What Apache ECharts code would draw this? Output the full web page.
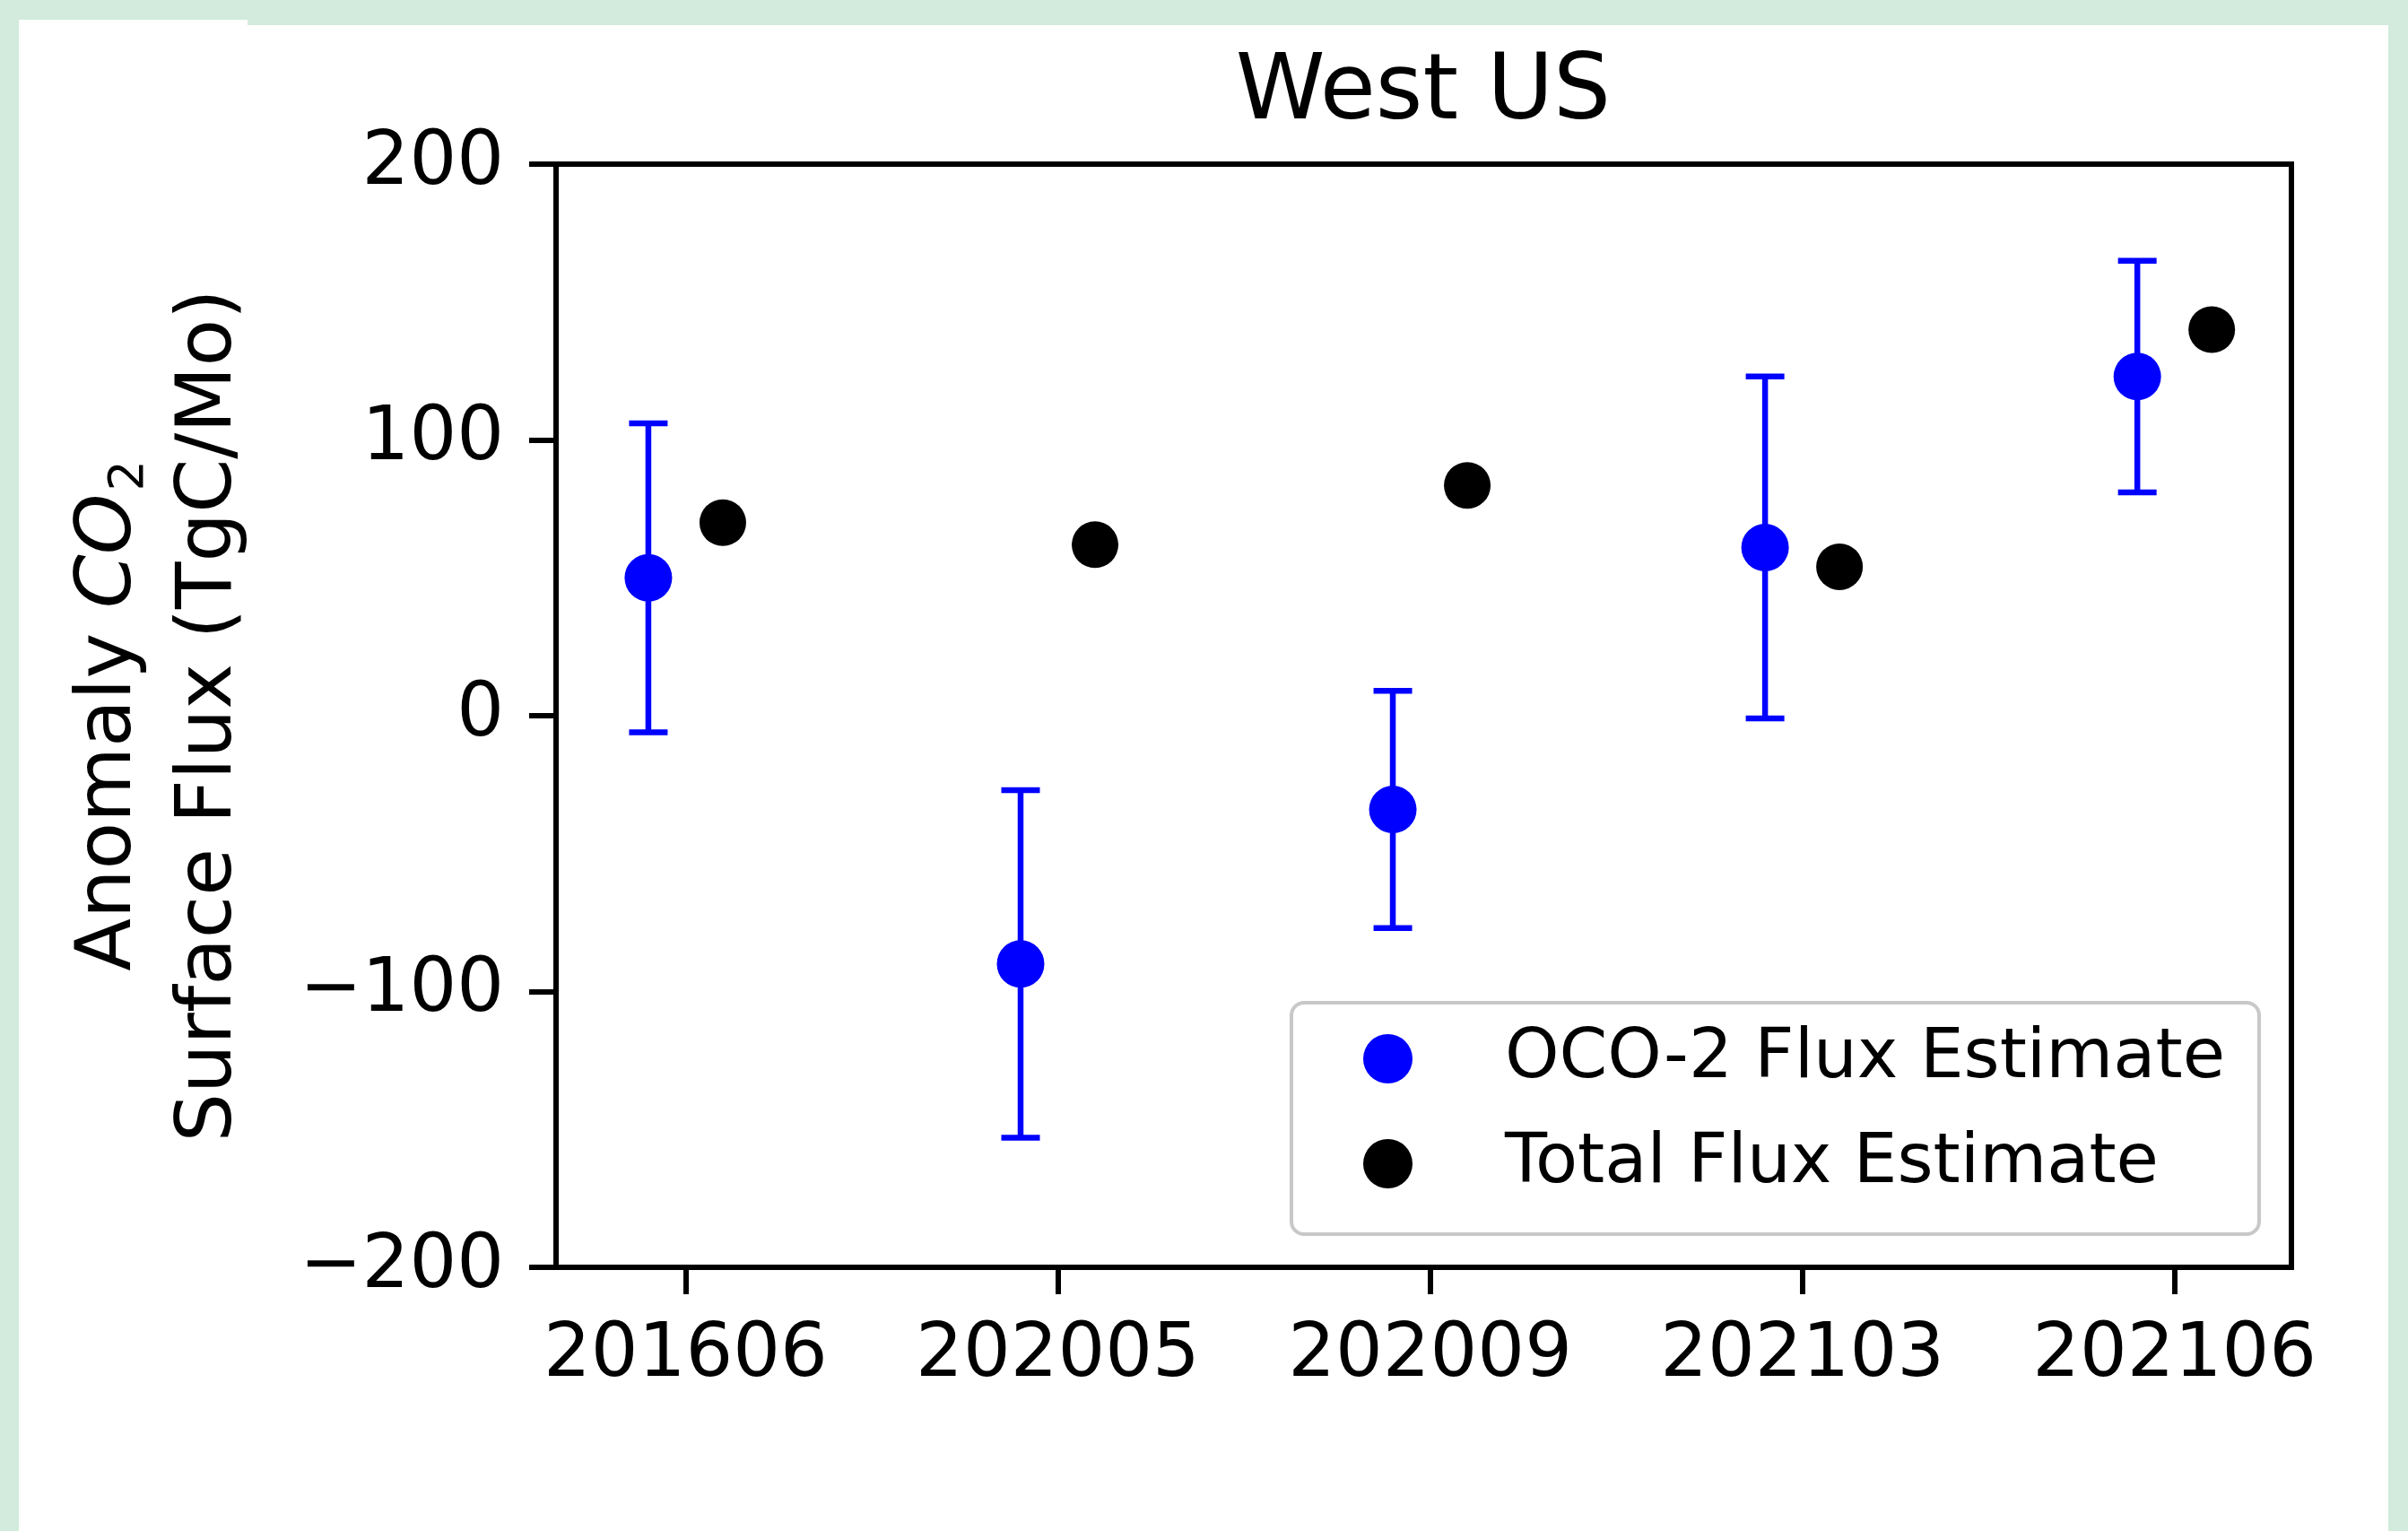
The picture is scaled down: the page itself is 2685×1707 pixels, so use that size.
<!DOCTYPE html>
<html>
<head>
<meta charset="utf-8">
<script src="https://cdn.jsdelivr.net/npm/echarts@6/dist/echarts.min.js"></script>
<style>
html,body{margin:0;padding:0;background:#d2ebdc;}
#c{width:2685px;height:1707px;}
</style>
</head>
<body>
<div id="c"></div>
<script>
// ---- data ----
const categories = ['201606', '202005', '202009', '202103', '202106'];
const ocoValues = [50, -90, -34, 61, 123];
const ocoErrors = [56, 63, 43, 62, 42];
const totalValues = [70, 62, 83.5, 54, 140];
const yTicks = [-200, -100, 0, 100, 200];
const seriesNames = ['OCO-2 Flux Estimate', 'Total Flux Estimate'];
const blueOffset = -0.1;
const blackOffset = 0.1;

const xTickPositions = categories.map((_, i) => i);
const ocoPoints = categories.map((_, i) => [i + blueOffset, ocoValues[i]]);
const ocoBars = categories.map((_, i) => [i + blueOffset, ocoValues[i] - ocoErrors[i], ocoValues[i] + ocoErrors[i]]);
const totalPoints = categories.map((_, i) => [i + blackOffset, totalValues[i]]);

const FONT = 'DejaVu Sans';
const chart = echarts.init(document.getElementById('c'), null, {renderer: 'canvas'});

chart.setOption({
  backgroundColor: '#d2ebdc',
  animation: false,
  textStyle: {fontFamily: FONT, color: '#000'},
  graphic: [
    {type: 'rect', z: -100, silent: true, shape: {x: 21, y: 28, width: 2642, height: 1679}, style: {fill: '#ffffff'}},
    {type: 'rect', z: -100, silent: true, shape: {x: 21, y: 22, width: 255, height: 8}, style: {fill: '#ffffff'}}
  ],
  title: {
    text: 'West US',
    left: 1587,
    top: 55,
    textAlign: 'center',
    padding: 0,
    textStyle: {fontFamily: FONT, fontSize: 101, fontWeight: 'normal', color: '#000'}
  },
  grid: {
    left: 620, top: 183, right: 130, bottom: 294,
    show: true, borderColor: '#000', borderWidth: 6, backgroundColor: 'transparent'
  },
  legend: {
    data: seriesNames,
    orient: 'vertical',
    left: 1440,
    top: 1118,
    padding: [24, 38, 40, 80],
    itemGap: 40,
    itemWidth: 55,
    itemHeight: 55,
    icon: 'circle',
    backgroundColor: '#ffffff',
    borderColor: '#c8c8c8',
    borderWidth: 4,
    borderRadius: 14,
    textStyle: {fontFamily: FONT, fontSize: 77, color: '#000', padding: [0, 0, 0, 98]}
  },
  xAxis: {
    type: 'value',
    min: -0.348,
    max: 4.314,
    splitLine: {show: false},
    axisLine: {show: true, onZero: false, lineStyle: {color: '#000', width: 6}},
    axisTick: {show: true, customValues: xTickPositions, length: 30, lineStyle: {color: '#000', width: 6}},
    axisLabel: {
      customValues: xTickPositions,
      formatter: v => categories[Math.round(v)],
      margin: 58, fontSize: 83, color: '#000', fontFamily: FONT
    }
  },
  yAxis: {
    type: 'value',
    min: -200,
    max: 200,
    interval: 100,
    splitLine: {show: false},
    axisLine: {show: true, onZero: false, lineStyle: {color: '#000', width: 6}},
    axisTick: {show: true, customValues: yTicks, length: 30, lineStyle: {color: '#000', width: 6}},
    axisLabel: {
      customValues: yTicks,
      formatter: v => String(v).replace('-', '\u2212'),
      margin: 58, fontSize: 83, color: '#000', fontFamily: FONT
    },
    name: '{n|Anomaly }{it|CO}{sub|2}\n{n|Surface Flux (TgC/Mo)}',
    nameLocation: 'middle',
    nameRotate: 90,
    nameGap: 329,
    nameTextStyle: {
      fontFamily: FONT, fontSize: 86, lineHeight: 112, color: '#000',
      rich: {
        n: {fontFamily: FONT, fontSize: 86, lineHeight: 112, color: '#000'},
        it: {fontFamily: FONT, fontSize: 86, lineHeight: 112, fontStyle: 'italic', color: '#000'},
        sub: {fontFamily: FONT, fontSize: 54, lineHeight: 54, color: '#000', padding: [44, 0, 0, 3]}
      }
    }
  },
  series: [
    {
      type: 'custom',
      name: 'errorbars',
      z: 1,
      encode: {x: 0, y: [1, 2]},
      data: ocoBars,
      renderItem: function (params, api) {
        const x = api.value(0);
        const lo = api.coord([x, api.value(1)]);
        const hi = api.coord([x, api.value(2)]);
        const hw = 21.5;
        const st = {stroke: '#0000ff', lineWidth: 6.5};
        return {
          type: 'group',
          children: [
            {type: 'line', shape: {x1: lo[0], y1: lo[1], x2: hi[0], y2: hi[1]}, style: st},
            {type: 'line', shape: {x1: lo[0] - hw, y1: lo[1], x2: lo[0] + hw, y2: lo[1]}, style: st},
            {type: 'line', shape: {x1: hi[0] - hw, y1: hi[1], x2: hi[0] + hw, y2: hi[1]}, style: st}
          ]
        };
      }
    },
    {
      type: 'scatter',
      name: seriesNames[0],
      z: 3,
      symbol: 'circle',
      symbolSize: 53,
      itemStyle: {color: '#0000ff', opacity: 1},
      data: ocoPoints
    },
    {
      type: 'scatter',
      name: seriesNames[1],
      z: 3,
      symbol: 'circle',
      symbolSize: 52,
      itemStyle: {color: '#000000', opacity: 1},
      data: totalPoints
    }
  ]
});
</script>
</body>
</html>
